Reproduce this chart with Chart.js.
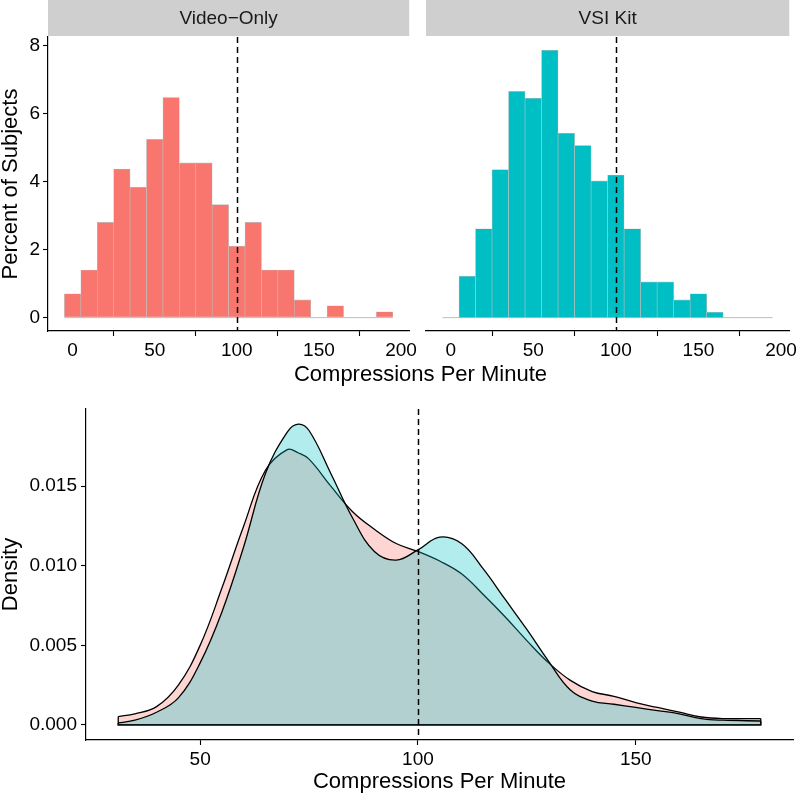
<!DOCTYPE html>
<html>
<head>
<meta charset="utf-8">
<script src="https://cdn.jsdelivr.net/npm/chart.js@4.4.1/dist/chart.umd.min.js"></script>
<style>
body { margin: 0; background: #fff; }
#wrap { position: relative; width: 800px; height: 796px; font-family: "Liberation Sans", Arial, sans-serif; }
canvas { position: absolute; }
#xtitle { position: absolute; left: 48px; width: 745px; top: 361px; text-align: center; font-size: 22px; line-height: 26px; color: #000; }
</style>
</head>
<body>
<div id="wrap">
  <canvas id="histLeft" style="left:0;top:0" width="420" height="380"></canvas>
  <canvas id="histRight" style="left:420px;top:0" width="380" height="380"></canvas>
  <div id="xtitle">Compressions Per Minute</div>
  <canvas id="dens" style="left:0;top:380px" width="800" height="416"></canvas>
</div>
<script>
// histogram bins (width 10, centred on these values), percent of subjects
const binCenters = [0, 10, 20, 30, 40, 50, 60, 70, 80, 90, 100, 110, 120, 130, 140, 150, 160, 170, 180, 190];
const binWidth = 10;
const videoPct = [0.70, 1.40, 2.80, 4.37, 3.83, 5.24, 6.47, 4.55, 4.55, 3.32, 2.10, 2.80, 1.40, 1.40, 0.52, 0, 0.35, 0, 0, 0.17];
const vsiPct = [0, 1.22, 2.61, 4.35, 6.65, 6.45, 7.86, 5.42, 5.06, 4.02, 4.19, 2.61, 1.05, 1.05, 0.52, 0.70, 0.16, 0, 0, 0];
const histTicksX = [0, 50, 100, 150, 200];
const histTicksY = [0, 2, 4, 6, 8];
const cutoff = 100;

// density curves
const densX = [31.2, 35, 40, 45, 50, 55, 60, 65, 70, 72.5, 75, 80, 85, 90, 95, 100, 105, 110, 115, 120, 125, 130, 135, 140, 145, 150, 155, 160, 165, 170, 178.7];
const videoDens = [0.00053, 0.0007, 0.00115, 0.0025, 0.0050, 0.0086, 0.0125, 0.0160, 0.0173, 0.0171, 0.0167, 0.0150, 0.0134, 0.0123, 0.0114, 0.0109, 0.0103, 0.0095, 0.0082, 0.0068, 0.0053, 0.0039, 0.0028, 0.0021, 0.0018, 0.0014, 0.0011, 0.0008, 0.0005, 0.0004, 0.0004];
const vsiDens = [0.00013, 0.0003, 0.0008, 0.0017, 0.0039, 0.0071, 0.0112, 0.0158, 0.0184, 0.0189, 0.0185, 0.0158, 0.0130, 0.0109, 0.01036, 0.0110, 0.0118, 0.0114, 0.0098, 0.0079, 0.0060, 0.0040, 0.0022, 0.0015, 0.0013, 0.0011, 0.0009, 0.0007, 0.0004, 0.0003, 0.00025];
const densTicksX = [50, 100, 150];
const densTicksY = [0, 0.005, 0.010, 0.015];

const FONT = '"Liberation Sans", Arial, sans-serif';
const RED = '#F8766D';
const CYAN = '#00BFC4';

// facet strip on top of the panel
const stripPlugin = {
    id: 'strip',
    beforeDraw(chart, args, opts) {
        const {ctx, chartArea} = chart;
        ctx.save();
        ctx.fillStyle = '#CFCFCF';
        ctx.fillRect(chartArea.left, 0, chartArea.right - chartArea.left, 36);
        ctx.fillStyle = '#1a1a1a';
        ctx.font = '19px ' + FONT;
        ctx.textAlign = 'center';
        ctx.textBaseline = 'middle';
        ctx.fillText(opts.text, (chartArea.left + chartArea.right) / 2, 19);
        ctx.restore();
    }
};

// dashed reference line at 100 cpm
const cutoffPlugin = {
    id: 'cutoff',
    afterDatasetsDraw(chart) {
        const {ctx, chartArea} = chart;
        const x = Math.round(chart.scales.x.getPixelForValue(cutoff)) + 0.5;
        ctx.save();
        ctx.strokeStyle = '#000';
        ctx.lineWidth = 1.5;
        ctx.setLineDash([6, 4]);
        ctx.beginPath();
        ctx.moveTo(x, chartArea.top);
        ctx.lineTo(x, chartArea.bottom);
        ctx.stroke();
        ctx.restore();
    }
};

function tickAxis(min, max, ticks, extra) {
    return Object.assign({
        type: 'linear',
        min: min,
        max: max,
        offset: false,
        afterBuildTicks: function(scale) {
            scale.ticks = ticks.map(function(v) { return {value: v}; });
        },
        grid: {display: true, drawOnChartArea: false, drawTicks: true, tickLength: 5, color: '#000', tickWidth: 1.1},
        border: {display: true, color: '#000', width: 1.2},
        ticks: {color: '#000', font: {family: FONT, size: 19}, padding: 3}
    }, extra);
}

function histogram(id, pct, color, label, showY, pad) {
    return new Chart(document.getElementById(id), {
        type: 'bar',
        data: {
            datasets: [{
                type: 'bar',
                data: binCenters.map(function(x, i) { return {x: x, y: pct[i]}; }),
                backgroundColor: color,
                borderColor: '#BEBEBE',
                borderWidth: 0.6,
                borderSkipped: false,
                barPercentage: 1,
                categoryPercentage: 1,
                order: 1
            }, {
                type: 'line',
                data: [{x: binCenters[0] - binWidth / 2, y: 0}, {x: binCenters[binCenters.length - 1] + binWidth / 2, y: 0}],
                borderColor: '#BEBEBE',
                borderWidth: 1,
                pointRadius: 0,
                order: 2
            }]
        },
        options: {
            responsive: false,
            animation: false,
            layout: {padding: pad},
            plugins: {legend: {display: false}, tooltip: {enabled: false}, strip: {text: label}},
            scales: {
                x: tickAxis(-15, 205, histTicksX, {
                    afterFit: function(s) { s.height = 49; }
                }),
                y: tickAxis(-0.393, 8.25, histTicksY, {
                    display: showY,
                    title: {display: true, text: 'Percent of Subjects', color: '#000', font: {family: FONT, size: 22, lineHeight: 1}, padding: 0},
                    afterFit: function(s) { s.width = showY ? 48 : 0; }
                })
            }
        },
        plugins: [stripPlugin, cutoffPlugin]
    });
}

histogram('histLeft', videoPct, RED, 'Video\u2212Only', true, {top: 37, right: 6, left: 0, bottom: 0});
histogram('histRight', vsiPct, CYAN, 'VSI Kit', false, {top: 37, right: 7, left: 6, bottom: 0});

function curve(ys, fill, order) {
    return {
        data: densX.map(function(x, i) { return {x: x, y: ys[i]}; }),
        fill: 'origin',
        backgroundColor: fill,
        borderColor: '#000',
        borderWidth: 1.3,
        pointRadius: 0,
        tension: 0.4,
        order: order
    };
}

function closing(ys, order) {
    const last = densX.length - 1;
    return {
        data: [{x: densX[0], y: ys[0]}, {x: densX[0], y: 0}, {x: densX[last], y: 0}, {x: densX[last], y: ys[last]}],
        fill: false,
        borderColor: '#000',
        borderWidth: 1.3,
        pointRadius: 0,
        tension: 0,
        order: order
    };
}

new Chart(document.getElementById('dens'), {
    type: 'line',
    data: {
        datasets: [
            curve(videoDens, 'rgba(248,118,109,0.3)', 4),
            closing(videoDens, 3),
            curve(vsiDens, 'rgba(0,191,196,0.3)', 2),
            closing(vsiDens, 1)
        ]
    },
    options: {
        responsive: false,
        animation: false,
        layout: {padding: {top: 29, right: 7, left: 0, bottom: 0}},
        plugins: {legend: {display: false}, tooltip: {enabled: false}},
        scales: {
            x: tickAxis(23.8, 186.1, densTicksX, {
                title: {display: true, text: 'Compressions Per Minute', color: '#000', font: {family: FONT, size: 22, lineHeight: 1}, padding: {top: 0, bottom: 3}},
                afterFit: function(s) { s.height = 56; }
            }),
            y: tickAxis(-0.000945, 0.01985, densTicksY, {
                title: {display: true, text: 'Density', color: '#000', font: {family: FONT, size: 22, lineHeight: 1}, padding: 0},
                ticks: {color: '#000', font: {family: FONT, size: 19}, padding: 4, callback: function(v) { return v.toFixed(3); }},
                afterFit: function(s) { s.width = 86; }
            })
        }
    },
    plugins: [cutoffPlugin]
});
</script>
</body>
</html>
